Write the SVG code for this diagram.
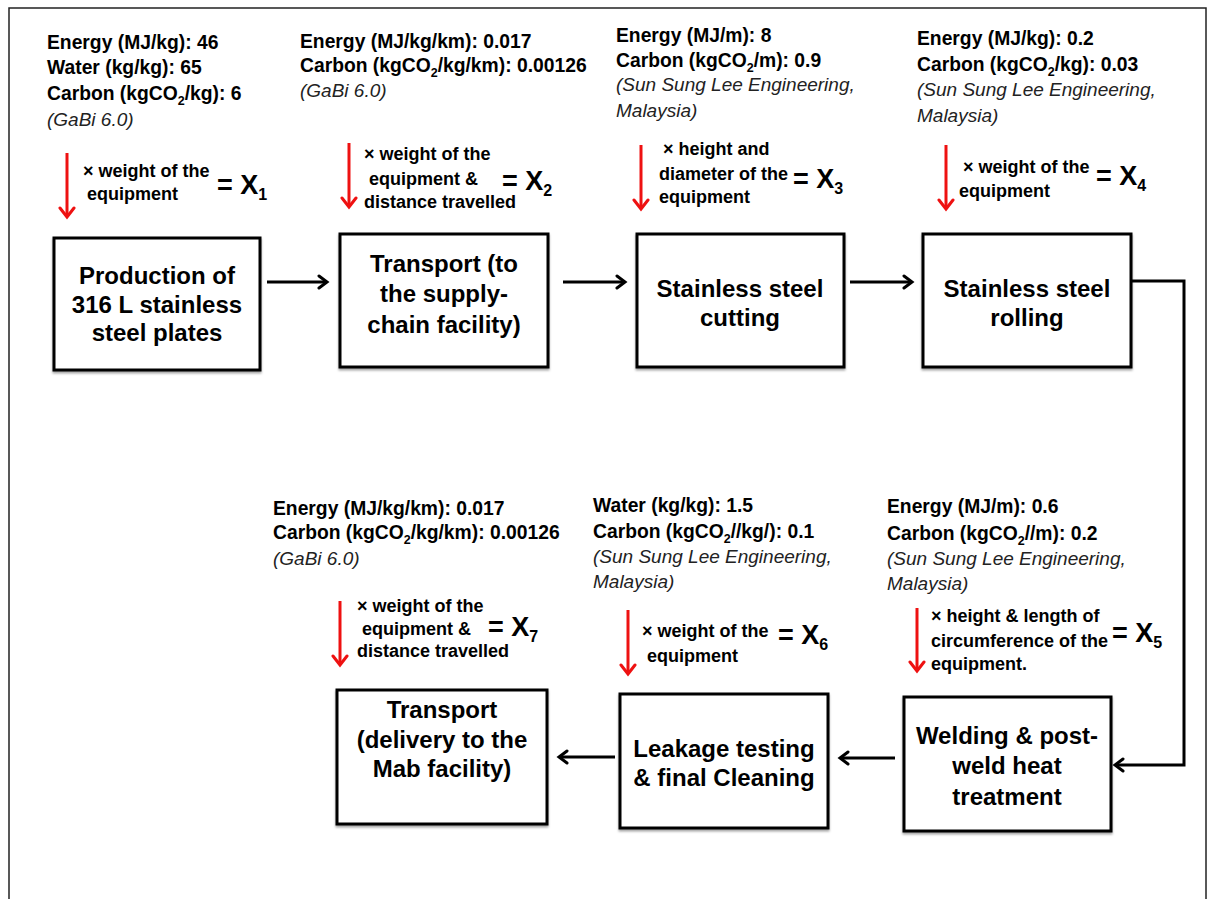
<svg xmlns="http://www.w3.org/2000/svg" width="1210" height="899" viewBox="0 0 1210 899">
  <style>
    .frame { fill: #ffffff; stroke: #222222; stroke-width: 1.5; }
    .box { fill: #ffffff; stroke: #000000; stroke-width: 3; filter: url(#shade); }
    .label { font-family: "Liberation Sans", Arial, sans-serif; font-size: 24px; font-weight: bold; fill: #000000; text-anchor: middle; }
    .data { font-family: "Liberation Sans", Arial, sans-serif; font-size: 19.3px; font-weight: bold; fill: #000000; }
    .src { font-family: "Liberation Sans", Arial, sans-serif; font-size: 19px; font-style: italic; fill: #222222; }
    .mult { font-family: "Liberation Sans", Arial, sans-serif; font-size: 18px; font-weight: bold; fill: #000000; }
    .eq { font-family: "Liberation Sans", Arial, sans-serif; font-size: 27px; font-weight: bold; fill: #000000; }
    .sub { font-size: 12.5px; }
    .eqsub { font-size: 16px; }
    .flow { fill: none; stroke: #000000; stroke-width: 3; marker-end: url(#blackHead); }
    .factor { fill: none; stroke: #ee1111; stroke-width: 3; marker-end: url(#redHead); }
  </style>
  <defs>
    <filter id="shade" x="-5%" y="-5%" width="110%" height="115%">
      <feDropShadow dx="0" dy="2" stdDeviation="1" flood-color="#000000" flood-opacity="0.35"/>
    </filter>
    <marker id="blackHead" markerWidth="16" markerHeight="16" refX="11" refY="8" orient="auto" markerUnits="userSpaceOnUse">
      <path d="M3,2 L11,8 L3,14" fill="none" stroke="#000000" stroke-width="3" stroke-linecap="round" stroke-linejoin="miter"/>
    </marker>
    <marker id="redHead" markerWidth="18" markerHeight="18" refX="11" refY="9" orient="auto" markerUnits="userSpaceOnUse">
      <path d="M2,2 L11,9 L2,16" fill="none" stroke="#ee1111" stroke-width="3" stroke-linecap="round" stroke-linejoin="miter"/>
    </marker>
  </defs>

  <!-- outer frame -->
  <rect class="frame" x="9" y="8" width="1197" height="920"/>

  <!-- connectors -->
  <g id="connectors">
    <line class="flow" x1="267" y1="282" x2="327" y2="282"/>
    <line class="flow" x1="563" y1="282" x2="625" y2="282"/>
    <line class="flow" x1="850" y1="282" x2="912" y2="282"/>
    <polyline class="flow" points="1132,281 1184,281 1184,765 1115,765"/>
    <line class="flow" x1="895" y1="758" x2="840" y2="758"/>
    <line class="flow" x1="615" y1="757" x2="559" y2="757"/>
  </g>

  <!-- production of plates -->
  <g id="production">
    <text class="data" x="47" y="49">Energy (MJ/kg): 46</text>
    <text class="data" x="47" y="74">Water (kg/kg): 65</text>
    <text class="data" x="47" y="100">Carbon (kgCO<tspan class="sub" dy="5">2</tspan><tspan dy="-5">/kg): 6</tspan></text>
    <text class="src" x="47" y="126">(GaBi 6.0)</text>
    <line class="factor" x1="67" y1="153" x2="67" y2="217"/>
    <text class="mult" x="83" y="177">× weight of the</text>
    <text class="mult" x="87" y="200">equipment</text>
    <text class="eq" x="217" y="194">= X<tspan class="eqsub" dy="6">1</tspan></text>
    <rect class="box" x="54" y="238" width="206" height="132"/>
    <text class="label" x="157" y="284">Production of</text>
    <text class="label" x="157" y="313">316 L stainless</text>
    <text class="label" x="157" y="341">steel plates</text>
  </g>

  <!-- transport to supply chain -->
  <g id="transport-supply">
    <text class="data" x="300" y="48">Energy (MJ/kg/km): 0.017</text>
    <text class="data" x="300" y="72">Carbon (kgCO<tspan class="sub" dy="5">2</tspan><tspan dy="-5">/kg/km): 0.00126</tspan></text>
    <text class="src" x="300" y="97">(GaBi 6.0)</text>
    <line class="factor" x1="349" y1="143" x2="349" y2="207"/>
    <text class="mult" x="364" y="160">× weight of the</text>
    <text class="mult" x="369" y="185">equipment &amp;</text>
    <text class="mult" x="364" y="208">distance travelled</text>
    <text class="eq" x="502" y="190">= X<tspan class="eqsub" dy="6">2</tspan></text>
    <rect class="box" x="340" y="234" width="208" height="133"/>
    <text class="label" x="444" y="272">Transport (to</text>
    <text class="label" x="444" y="302">the supply-</text>
    <text class="label" x="444" y="333">chain facility)</text>
  </g>

  <!-- cutting -->
  <g id="cutting">
    <text class="data" x="616" y="42">Energy (MJ/m): 8</text>
    <text class="data" x="616" y="67">Carbon (kgCO<tspan class="sub" dy="5">2</tspan><tspan dy="-5">/m): 0.9</tspan></text>
    <text class="src" x="616" y="91">(Sun Sung Lee Engineering,</text>
    <text class="src" x="616" y="117">Malaysia)</text>
    <line class="factor" x1="641" y1="145" x2="641" y2="209"/>
    <text class="mult" x="663" y="155">× height and</text>
    <text class="mult" x="659" y="180">diameter of the</text>
    <text class="mult" x="659" y="203">equipment</text>
    <text class="eq" x="793" y="188">= X<tspan class="eqsub" dy="6">3</tspan></text>
    <rect class="box" x="637" y="234" width="207" height="133"/>
    <text class="label" x="740" y="297">Stainless steel</text>
    <text class="label" x="740" y="326">cutting</text>
  </g>

  <!-- rolling -->
  <g id="rolling">
    <text class="data" x="917" y="45">Energy (MJ/kg): 0.2</text>
    <text class="data" x="917" y="71">Carbon (kgCO<tspan class="sub" dy="5">2</tspan><tspan dy="-5">/kg): 0.03</tspan></text>
    <text class="src" x="917" y="96">(Sun Sung Lee Engineering,</text>
    <text class="src" x="917" y="122">Malaysia)</text>
    <line class="factor" x1="946" y1="145" x2="946" y2="209"/>
    <text class="mult" x="963" y="173">× weight of the</text>
    <text class="mult" x="959" y="197">equipment</text>
    <text class="eq" x="1096" y="185">= X<tspan class="eqsub" dy="6">4</tspan></text>
    <rect class="box" x="923" y="234" width="208" height="133"/>
    <text class="label" x="1027" y="297">Stainless steel</text>
    <text class="label" x="1027" y="326">rolling</text>
  </g>

  <!-- welding -->
  <g id="welding">
    <text class="data" x="887" y="513">Energy (MJ/m): 0.6</text>
    <text class="data" x="887" y="540">Carbon (kgCO<tspan class="sub" dy="5">2</tspan><tspan dy="-5">//m): 0.2</tspan></text>
    <text class="src" x="887" y="565">(Sun Sung Lee Engineering,</text>
    <text class="src" x="887" y="590">Malaysia)</text>
    <line class="factor" x1="917" y1="608" x2="917" y2="671"/>
    <text class="mult" x="931" y="622">× height &amp; length of</text>
    <text class="mult" x="931" y="647">circumference of the</text>
    <text class="mult" x="931" y="670">equipment.</text>
    <text class="eq" x="1112" y="642">= X<tspan class="eqsub" dy="6">5</tspan></text>
    <rect class="box" x="904" y="697" width="207" height="134"/>
    <text class="label" x="1007" y="744">Welding &amp; post-</text>
    <text class="label" x="1007" y="774">weld heat</text>
    <text class="label" x="1007" y="805">treatment</text>
  </g>

  <!-- leakage testing -->
  <g id="leakage">
    <text class="data" x="593" y="512">Water (kg/kg): 1.5</text>
    <text class="data" x="593" y="538">Carbon (kgCO<tspan class="sub" dy="5">2</tspan><tspan dy="-5">//kg/): 0.1</tspan></text>
    <text class="src" x="593" y="563">(Sun Sung Lee Engineering,</text>
    <text class="src" x="593" y="588">Malaysia)</text>
    <line class="factor" x1="628" y1="610" x2="628" y2="674"/>
    <text class="mult" x="642" y="637">× weight of the</text>
    <text class="mult" x="647" y="662">equipment</text>
    <text class="eq" x="778" y="644">= X<tspan class="eqsub" dy="6">6</tspan></text>
    <rect class="box" x="620" y="694" width="208" height="134"/>
    <text class="label" x="724" y="757">Leakage testing</text>
    <text class="label" x="724" y="786">&amp; final Cleaning</text>
  </g>

  <!-- transport to the Mab facility -->
  <g id="transport-delivery">
    <text class="data" x="273" y="515">Energy (MJ/kg/km): 0.017</text>
    <text class="data" x="273" y="539">Carbon (kgCO<tspan class="sub" dy="5">2</tspan><tspan dy="-5">/kg/km): 0.00126</tspan></text>
    <text class="src" x="273" y="565">(GaBi 6.0)</text>
    <line class="factor" x1="340" y1="601" x2="340" y2="665"/>
    <text class="mult" x="357" y="612">× weight of the</text>
    <text class="mult" x="362" y="635">equipment &amp;</text>
    <text class="mult" x="357" y="657">distance travelled</text>
    <text class="eq" x="488" y="636">= X<tspan class="eqsub" dy="6">7</tspan></text>
    <rect class="box" x="337" y="690" width="210" height="134"/>
    <text class="label" x="442" y="718">Transport</text>
    <text class="label" x="442" y="748">(delivery to the</text>
    <text class="label" x="442" y="777">Mab facility)</text>
  </g>
</svg>
